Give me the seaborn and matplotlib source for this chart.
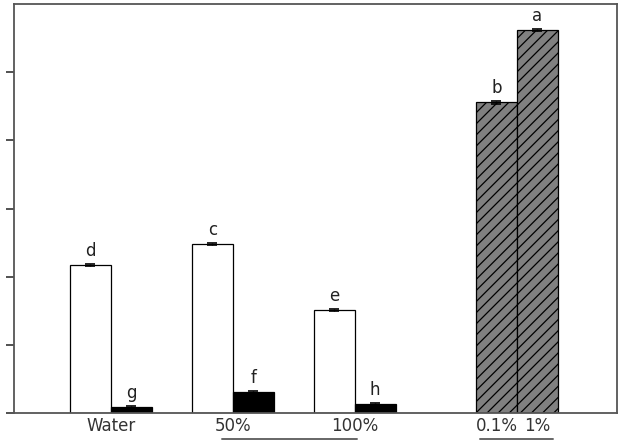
import numpy as np
import pandas as pd
import matplotlib
matplotlib.use("Agg")
import matplotlib.pyplot as plt
import seaborn as sns

# values (y axis 0..6, no tick labels)
groups = ["Water", "50%", "100%", "Control"]
group_pos = [0, 1, 2, 3.33]
white_vals = [2.17, 2.48, 1.51]
black_vals = [0.09, 0.31, 0.13]
control_vals = [4.56, 5.62]
control_labels = ["0.1%", "1%"]
errs = [0.02, 0.02, 0.02, 0.02, 0.02, 0.02, 0.02, 0.02]
letters_first = ["d", "c", "e", "b"]
letters_second = ["g", "f", "h", "a"]

df = pd.DataFrame({
    "pos": group_pos * 2,
    "part": ["first"] * 4 + ["second"] * 4,
    "value": white_vals + [control_vals[0]] + black_vals + [control_vals[1]],
    "letter": letters_first + letters_second,
    "err": errs,
})

sns.set_style("white")
plt.rcParams["font.family"] = ["DejaVu Sans"]
plt.rcParams["hatch.linewidth"] = 0.9

fig = plt.figure(figsize=(6.26, 4.48), dpi=100)
ax = fig.add_axes([0.0224, 0.078, 0.963, 0.913])

sns.barplot(data=df, x="pos", y="value", hue="part", native_scale=True,
            width=0.672, errorbar=None, legend=False, ax=ax,
            palette=["white", "black"], edgecolor="black", linewidth=1)

# restyle bars: control pair is grey hatched
for cont, part in zip(ax.containers, ["first", "second"]):
    sub = df[df["part"] == part].reset_index(drop=True)
    for bar, (_, row) in zip(cont, sub.iterrows()):
        if row["pos"] == group_pos[-1]:
            bar.set_facecolor("#808080")
            bar.set_hatch("///")
        bar.set_edgecolor("black")
        bar.set_linewidth(0.9)
        cx = bar.get_x() + bar.get_width() / 2
        h = bar.get_height()
        ax.errorbar(cx, h, yerr=row["err"], fmt="none", ecolor="black",
                    capsize=3.5, elinewidth=1, capthick=1.2)
        ax.text(cx, h + 0.21, row["letter"], ha="center", va="center",
                fontsize=12, color="#222222")

# x tick labels
half = 0.672 / 4
tick_pos = [0, 1, 2, group_pos[-1] - half, group_pos[-1] + half]
tick_lab = ["Water", "50%", "100%"] + control_labels
ax.set_xticks(tick_pos)
ax.set_xticklabels(tick_lab, fontsize=12, color="#333333")
ax.tick_params(axis="x", length=0, pad=3)

# underlines beneath grouped labels
trans = ax.get_xaxis_transform()
for a, b in [(0.91, 2.02), (group_pos[-1] - 0.3, group_pos[-1] + 0.3)]:
    ax.plot([a, b], [-0.063, -0.063], transform=trans, color="#666666",
            lw=1.4, clip_on=False)

ax.set_xlim(-0.795, 4.15)
ax.set_ylim(0, 6)
ax.set_yticks(np.arange(0, 6, 1))
ax.set_yticklabels([])
ax.tick_params(axis="y", direction="out", length=6, width=1.2,
               color="#333333", left=True)
ax.set_xlabel("")
ax.set_ylabel("")
for s in ax.spines.values():
    s.set_color("#555555")
    s.set_linewidth(1.3)

fig.savefig("out.png", dpi=100)
